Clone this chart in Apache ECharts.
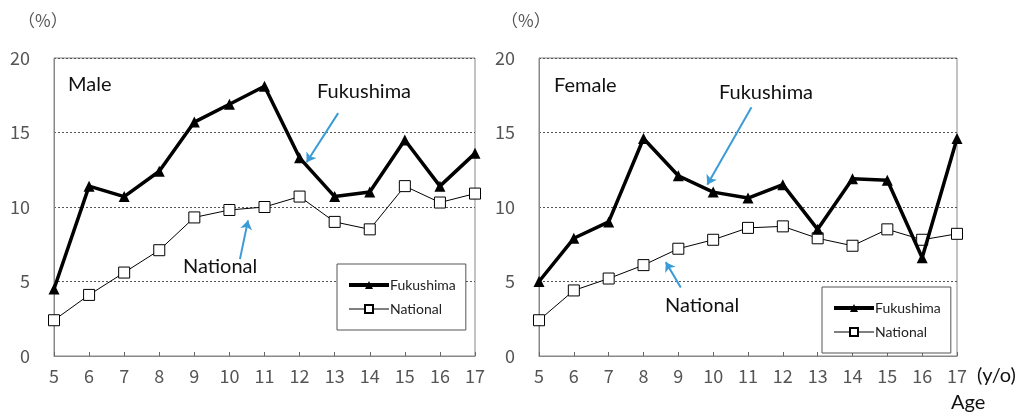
<!DOCTYPE html>
<html>
<head>
<meta charset="utf-8">
<script src="https://cdn.jsdelivr.net/npm/echarts@6/dist/echarts.min.js"></script>
<style>html,body{margin:0;padding:0;background:#fff}#c{width:1028px;height:416px}</style>
</head>
<body>
<div id="c"></div>
<script>
const ages = [5,6,7,8,9,10,11,12,13,14,15,16,17];
const maleFukushima = [4.5,11.4,10.7,12.4,15.7,16.9,18.1,13.3,10.7,11.0,14.5,11.4,13.6];
const maleNational = [2.4,4.1,5.6,7.1,9.3,9.8,10.0,10.7,9.0,8.5,11.4,10.3,10.9];
const femaleFukushima = [5.0,7.9,9.0,14.6,12.1,11.0,10.6,11.5,8.5,11.9,11.8,6.6,14.6];
const femaleNational = [2.4,4.4,5.2,6.1,7.2,7.8,8.6,8.7,7.9,7.4,8.5,7.8,8.2];
const yTicks = [0,5,10,15,20];

const chart = echarts.init(document.getElementById('c'));
const tickFont = {fontFamily:'"Noto Sans CJK JP", "DejaVu Sans", sans-serif', fontSize:18, color:'#555'};
const annFont = 'Lato';
const arrowColor = '#3b9bd6';

function pairs(vals){ return ages.map((a,i)=>[a, vals[i]]); }

function xAxis(idx){
  return {type:'value', gridIndex:idx, min:5, max:17, interval:1,
    axisLine:{show:true, lineStyle:{color:'#888', width:1}},
    axisTick:{show:true, inside:true, length:4, lineStyle:{color:'#666'}},
    splitLine:{show:false},
    axisLabel:Object.assign({margin:11}, tickFont)};
}
function yAxis(idx){
  return {type:'value', gridIndex:idx, min:0, max:20, interval:5,
    axisLine:{show:true, lineStyle:{color:'#888'}},
    axisTick:{show:false},
    splitLine:{show:true, lineStyle:{color:'#555', type:[2,2], width:1}},
    axisLabel:Object.assign({margin:24, formatter:v=>yTicks.includes(v)?String(v):''}, tickFont)};
}
function fukSeries(idx, vals, arrow){
  return {name:'Fukushima', type:'line', xAxisIndex:idx, yAxisIndex:idx, data:pairs(vals),
    symbol:'triangle', symbolSize:11, lineStyle:{color:'#000', width:3.5},
    itemStyle:{color:'#000'}, z:3, animation:false,
    markLine:{silent:true, symbol:['none','arrow'], symbolSize:9, label:{show:false},
      lineStyle:{color:arrowColor, width:2, type:'solid'},
      data:[[{coord:arrow[0]},{coord:arrow[1]}]]}};
}
function natSeries(idx, vals, arrow){
  return {name:'National', type:'line', xAxisIndex:idx, yAxisIndex:idx, data:pairs(vals),
    symbol:'rect', symbolSize:11, lineStyle:{color:'#000', width:1},
    itemStyle:{color:'#fff', borderColor:'#000', borderWidth:1}, z:2, animation:false,
    markLine:{silent:true, symbol:['none','arrow'], symbolSize:9, label:{show:false},
      lineStyle:{color:arrowColor, width:2, type:'solid'},
      data:[[{coord:arrow[0]},{coord:arrow[1]}]]}};
}
function legend(left, top){
  return {show:true, orient:'vertical', left:left, top:top,
    data:[{name:'Fukushima', lineStyle:{width:4, color:'#000'}, itemStyle:{color:'#000'}},
          {name:'National', lineStyle:{width:1, color:'#000'}}],
    backgroundColor:'#fff', borderColor:'#555', borderWidth:1, padding:[14,10,14,10],
    itemGap:10, itemWidth:40, itemHeight:10, selectedMode:false,
    textStyle:{fontFamily:annFont, fontSize:14, color:'#222', padding:[0,0,0,-4]}};
}
function txt(x, y, s, size){
  return {type:'text', left:x, top:y, style:{text:s, font:size+'px '+annFont, fill:'#111'}};
}

chart.setOption({
  animation:false,
  grid:[
    {left:54, right:553, top:58, bottom:60, show:true, borderColor:'#888', borderWidth:1, backgroundColor:'transparent'},
    {left:539, right:71, top:58, bottom:60, show:true, borderColor:'#888', borderWidth:1, backgroundColor:'transparent'}
  ],
  xAxis:[xAxis(0), xAxis(1)],
  yAxis:[yAxis(0), yAxis(1)],
  legend:[legend(337,264), legend(822,287)],
  series:[
    fukSeries(0, maleFukushima, [[13.1,16.3],[12.2,13.0]]),
    natSeries(0, maleNational, [[10.3,6.5],[10.53,9.1]]),
    fukSeries(1, femaleFukushima, [[11.1,16.7],[9.83,11.5]]),
    natSeries(1, femaleNational, [[9.07,4.6],[8.64,6.3]])
  ],
  graphic:[
    {type:'text', left:18, top:12, style:{text:'（%）', font:'17px "Noto Sans CJK JP"', fill:'#555'}},
    {type:'text', left:501, top:12, style:{text:'（%）', font:'17px "Noto Sans CJK JP"', fill:'#555'}},
    txt(68, 75, 'Male', 20),
    txt(317, 82, 'Fukushima', 20),
    txt(183, 257, 'National', 20),
    txt(554, 76, 'Female', 20),
    txt(719, 83, 'Fukushima', 20),
    txt(665, 296, 'National', 20),
    txt(977, 366, '(y/o)', 20),
    txt(951, 393, 'Age', 20)
  ]
});
</script>
</body>
</html>
